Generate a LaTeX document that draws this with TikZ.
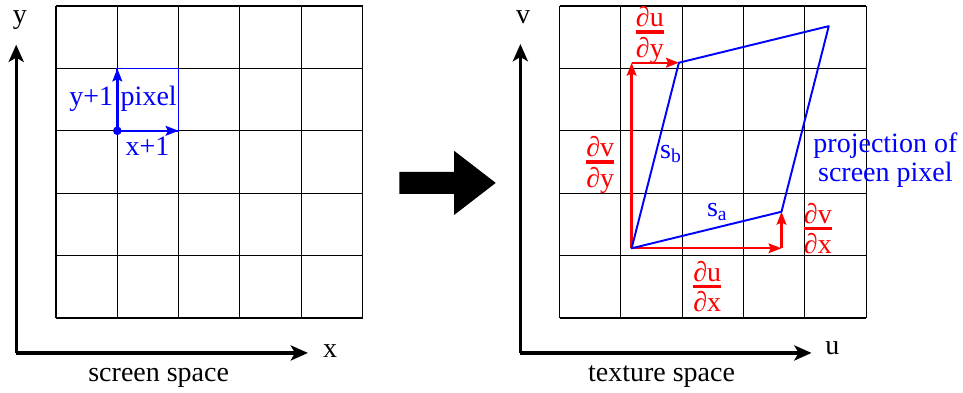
\documentclass[tikz,border=0pt]{standalone}
\usepackage{amsmath}
\usepackage{fontspec}
\setmainfont{Liberation Serif}
\usetikzlibrary{arrows.meta}
\newcommand{\partfrac}[2]{$\genfrac{}{}{1.5pt}{1}{\mbox{∂#1}}{\mbox{∂#2}}$}
\tikzset{
  axis/.style={line width=1.5pt,-{Stealth[length=8pt,width=7pt,inset=2pt]}},
  gridline/.style={line width=0.5pt},
  bluevec/.style={blue,line width=1.2pt,-{Stealth[length=6pt,width=4.5pt,inset=1pt]}},
  redvec/.style={red,line width=1.1pt,-{Stealth[length=6pt,width=4.5pt,inset=1pt]}},
  lbl/.style={font=\fontsize{13}{13.2}\selectfont,inner sep=0pt},
}
\begin{document}
\begin{tikzpicture}[x=1cm,y=1.018cm]
\useasboundingbox (-0.914,-1.186) rectangle (14.796,5.096);
% screen space
\foreach \i in {0,...,5} {
  \draw[gridline] (\i,0) -- (\i,5);
  \draw[gridline] (0,\i) -- (5,\i);
}
\coordinate (sO) at (-0.65,-0.56);
\coordinate (sX) at (4.11,-0.56);
\coordinate (sY) at (-0.65,4.38);
\draw[axis] (sO) -- (sX);
\draw[axis] (sO) -- (sY);
\node[lbl] (xlab) at (4.47,-0.53) {x};
\node[lbl] (ylab) at (-0.59,4.78) {y};
\node[lbl,anchor=base] (screen) at (1.675,-1.02) {screen space};
% one pixel
\coordinate (p0) at (1,3);
\coordinate (px) at (2,3);
\coordinate (py) at (1,4);
\draw[blue,line width=0.8pt] (p0) rectangle (2,4);
\draw[bluevec] (p0) -- (px);
\draw[bluevec] (p0) -- (py);
\fill[blue] (p0) circle (2pt);
\node[lbl,blue,anchor=base] (yone) at (0.574,3.413) {y+1};
\node[lbl,blue,anchor=base] (pixel) at (1.512,3.413) {pixel};
\node[lbl,blue,anchor=base] (xone) at (1.493,2.612) {x+1};
% big arrow
\fill (5.6,1.99) -- (5.6,2.34) -- (6.493,2.34) -- (6.493,2.68) -- (7.173,2.165)
  -- (6.493,1.65) -- (6.493,1.99) -- cycle;
% texture space
\begin{scope}[xshift=8.215cm]
\foreach \i in {0,...,5} {
  \draw[gridline] (\i,0) -- (\i,5);
  \draw[gridline] (0,\i) -- (5,\i);
}
\coordinate (tO) at (-0.64,-0.56);
\coordinate (tU) at (4.11,-0.56);
\coordinate (tV) at (-0.64,4.39);
\draw[axis] (tO) -- (tU);
\draw[axis] (tO) -- (tV);
\node[lbl] (ulab) at (4.45,-0.48) {u};
\node[lbl] (vlab) at (-0.595,4.816) {v};
\node[lbl,anchor=base] (texture) at (1.663,-1.02) {texture space};
% projected pixel
\coordinate (P) at (1.175,1.117);
\coordinate (A) at (3.62,1.703);
\coordinate (B) at (1.946,4.091);
\coordinate (C) at (4.391,4.677);
\draw[redvec] (P) -- (A |- P);
\draw[redvec] (A |- P) -- (A);
\draw[redvec] (P) -- (P |- B);
\draw[redvec] (P |- B) -- (B);
\draw[blue,line width=0.9pt,line join=round] (P) -- (A) -- (C) -- (B) -- cycle;
\node[lbl,blue,anchor=base west] (sb) at (1.634,2.56) {s\textsubscript{b}};
\node[lbl,blue,anchor=base west] (sa) at (2.398,1.623) {s\textsubscript{a}};
\node[lbl,blue,align=center] (proj) at (5.315,2.527) {projection of\\screen pixel};
\node[lbl,red,anchor=base] (dudy) at (1.473,4.478) {\partfrac{u}{y}};
\node[lbl,red,anchor=base] (dvdy) at (0.664,2.395) {\partfrac{v}{y}};
\node[lbl,red,anchor=base] (dvdx) at (4.214,1.327) {\partfrac{v}{x}};
\node[lbl,red,anchor=base] (dudx) at (2.408,0.403) {\partfrac{u}{x}};
\end{scope}
\end{tikzpicture}
\end{document}
